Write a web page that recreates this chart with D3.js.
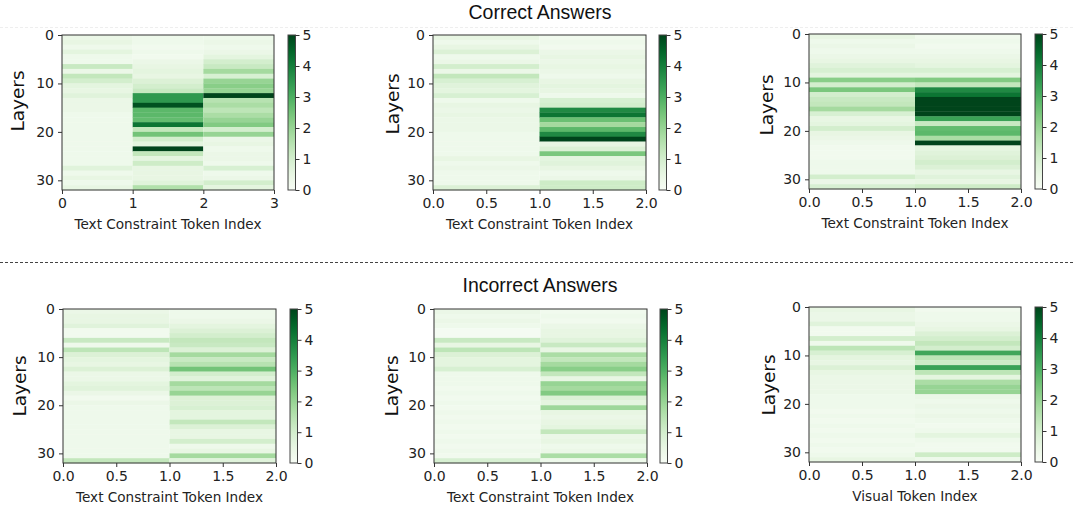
<html>
<head>
  <title>Correct vs Incorrect Answers</title>
  <script src="https://d3js.org/d3.v7.min.js"></script>
  <style>
    body { margin: 0; background: #fff; }
    .tick text { font-family: "DejaVu Sans", sans-serif; font-size: 14px; fill: #222; }
    .tick line { stroke: #333; }
    .domain { stroke: none; }
  </style>
</head>
<body>
<div id="vis"></div>
<script type="text/javascript">

  // values per layer (0..31), one array per token column
  var correct1_tok0 = [0.4,0.5,0.3,0.6,0.3,0.3,1.2,0.4,1.3,1.0,0.6,0.5,0.7,0.4,0.4,0.4,0.3,0.3,0.3,0.3,0.3,0.3,0.3,0.3,0.3,0.3,0.3,0.7,0.3,0.5,0.3,0.5];
  var correct1_tok1 = [0.3,0.3,0.2,0.3,0.2,0.4,0.5,0.6,0.5,0.8,1.0,1.2,3.5,3.5,4.8,2.8,2.8,2.7,4.2,1.3,2.5,1.0,0.6,5.0,1.3,0.6,1.1,0.5,0.5,0.5,0.7,1.6];
  var correct1_tok2 = [0.3,0.4,0.3,0.4,0.6,1.0,1.2,1.8,0.9,2.0,2.2,2.0,5.0,1.5,1.7,1.4,1.7,2.0,2.3,1.0,2.0,0.4,0.5,0.3,0.4,0.4,0.3,0.9,0.3,0.4,1.0,0.6];

  var correct2_tok0 = [0.5,0.3,0.5,0.8,0.3,0.4,1.0,0.4,1.3,0.9,0.7,0.6,0.9,0.3,0.5,0.4,0.5,0.4,0.4,0.4,0.3,0.3,0.3,0.3,0.3,0.5,0.3,0.4,0.3,0.3,0.3,0.8];
  var correct2_tok1 = [0.2,0.3,0.2,0.4,0.5,0.4,0.5,0.4,0.3,0.5,0.6,0.5,0.3,0.9,1.0,3.8,4.2,2.6,1.8,2.8,3.8,5.0,0.5,0.8,2.4,0.6,0.7,0.5,0.3,0.4,1.1,1.1];

  var correct3_tok0 = [0.5,0.3,0.4,0.3,0.4,0.5,0.7,0.9,0.6,2.2,1.0,2.4,1.0,1.2,1.3,1.8,0.9,0.5,0.6,1.0,0.5,0.4,0.3,0.2,0.2,0.2,0.3,0.3,0.3,1.0,0.4,0.9];
  var correct3_tok1 = [0.2,0.3,0.2,0.3,0.4,0.5,0.6,0.9,0.6,2.3,1.3,3.8,4.2,5.0,5.0,5.0,5.0,3.3,1.2,2.7,2.8,1.7,5.0,0.6,0.7,0.8,1.0,0.8,0.5,0.7,0.5,1.1];

  var incorrect1_tok0 = [0.4,0.5,0.5,0.7,0.2,0.2,1.2,0.3,1.4,0.8,0.6,0.5,0.8,0.4,0.4,0.6,0.7,0.4,0.2,0.4,0.3,0.3,0.3,0.3,0.3,0.3,0.3,0.3,0.3,0.3,0.3,1.3];
  var incorrect1_tok1 = [0.3,0.3,0.4,0.6,0.8,1.0,1.3,1.2,0.8,1.8,1.2,1.5,2.5,1.0,0.7,1.8,1.4,2.0,0.8,0.8,0.9,0.6,0.6,1.3,0.8,0.5,0.5,1.0,0.3,0.5,1.8,0.7];

  var incorrect2_tok0 = [0.4,0.3,0.4,0.3,0.1,0.1,1.2,0.5,1.4,0.8,0.6,0.6,0.9,0.3,0.3,0.3,0.2,0.3,0.2,0.3,0.2,0.3,0.2,0.3,0.2,0.3,0.2,0.3,0.2,0.3,0.2,0.9];
  var incorrect2_tok1 = [0.2,0.3,0.2,0.4,0.5,0.5,0.7,1.2,0.5,1.7,1.3,1.8,2.2,1.3,0.5,2.0,1.8,2.3,0.8,0.6,1.9,0.5,0.4,0.5,0.6,1.3,0.4,0.5,0.3,0.4,1.7,0.3];

  var incorrect3_tok0 = [0.5,0.4,0.4,0.7,0.2,0.2,1.0,0.3,1.4,0.9,0.6,0.5,0.8,0.5,0.4,0.4,0.4,0.4,0.3,0.3,0.3,0.2,0.3,0.2,0.3,0.2,0.3,0.2,0.3,0.2,0.3,0.5];
  var incorrect3_tok1 = [0.2,0.3,0.3,0.4,0.5,0.8,1.0,1.3,1.0,3.2,1.4,1.1,3.3,1.4,0.6,1.7,2.0,2.0,0.4,0.3,0.4,0.3,0.4,0.3,0.2,0.3,0.6,0.3,0.2,0.2,1.1,0.3];

  var yTicks = [0, 10, 20, 30];
  var cbTicks = [0, 1, 2, 3, 4, 5];
  var nLayers = 32;

  // panel layout: plot box + colorbar box + label spots
  var panels = [
    {cols: [correct1_tok0, correct1_tok1, correct1_tok2], xTicks: [0,1,2,3], fmt: d3.format('d'),
     xlabel: 'Text Constraint Token Index', l: 62, t: 35, r: 274, b: 190, cb: 288, ly: 18, lyc: 101},
    {cols: [correct2_tok0, correct2_tok1], xTicks: [0,0.5,1,1.5,2], fmt: d3.format('.1f'),
     xlabel: 'Text Constraint Token Index', l: 433, t: 35, r: 646, b: 190, cb: 659, ly: 393, lyc: 104},
    {cols: [correct3_tok0, correct3_tok1], xTicks: [0,0.5,1,1.5,2], fmt: d3.format('.1f'),
     xlabel: 'Text Constraint Token Index', l: 809, t: 34, r: 1021, b: 189, cb: 1035, ly: 767, lyc: 105},
    {cols: [incorrect1_tok0, incorrect1_tok1], xTicks: [0,0.5,1,1.5,2], fmt: d3.format('.1f'),
     xlabel: 'Text Constraint Token Index', l: 63, t: 309, r: 276, b: 463, cb: 290, ly: 20, lyc: 386},
    {cols: [incorrect2_tok0, incorrect2_tok1], xTicks: [0,0.5,1,1.5,2], fmt: d3.format('.1f'),
     xlabel: 'Text Constraint Token Index', l: 434, t: 309, r: 647, b: 463, cb: 660, ly: 392, lyc: 386},
    {cols: [incorrect3_tok0, incorrect3_tok1], xTicks: [0,0.5,1,1.5,2], fmt: d3.format('.1f'),
     xlabel: 'Visual Token Index', l: 809, t: 307, r: 1021, b: 462, cb: 1035, ly: 769, lyc: 385}
  ];

  var W = 1073, H = 507;
  var color = d3.scaleSequential(d3.interpolateGreens).domain([0, 5]);

  var svg = d3.select('#vis').append('svg')
                .attr('width', W)
                .attr('height', H);

  // gradient for colorbars
  var grad = svg.append('defs').append('linearGradient')
                .attr('id', 'greens')
                .attr('x1', 0).attr('y1', 1).attr('x2', 0).attr('y2', 0);
  d3.range(0, 1.0001, 0.05).forEach(function(s) {
    grad.append('stop').attr('offset', s).attr('stop-color', d3.interpolateGreens(s));
  });

  // section titles + separator
  svg.append('text').text('Correct Answers')
       .attr('x', 540).attr('y', 19).attr('text-anchor', 'middle')
       .style('font-family', '"Liberation Sans", Arial, sans-serif').style('font-size', '19.5px').style('fill', '#111');
  svg.append('text').text('Incorrect Answers')
       .attr('x', 540).attr('y', 292).attr('text-anchor', 'middle')
       .style('font-family', '"Liberation Sans", Arial, sans-serif').style('font-size', '19.5px').style('fill', '#111');
  svg.append('line')
       .attr('x1', 0).attr('x2', W).attr('y1', 262.5).attr('y2', 262.5)
       .style('stroke', '#444').style('stroke-width', 1).style('stroke-dasharray', '3,2');
  svg.append('line')
       .attr('x1', 0).attr('x2', W).attr('y1', 27.5).attr('y2', 27.5)
       .style('stroke', '#eee').style('stroke-width', 1).style('stroke-dasharray', '3,2');

  panels.forEach(function(p) {
    var x = d3.scaleLinear().domain([0, p.cols.length]).range([p.l, p.r]);
    var y = d3.scaleLinear().domain([0, nLayers]).range([p.t, p.b]);
    var g = svg.append('g');

    p.cols.forEach(function(vals, c) {
      g.selectAll(null)
         .data(vals)
         .enter().append('rect')
           .attr('x', x(c))
           .attr('width', x(c + 1) - x(c))
           .attr('y', function(d, i) { return y(i); })
           .attr('height', function(d, i) { return y(i + 1) - y(i) + 0.3; })
           .style('fill', function(d) { return color(d); });
    });

    g.append('rect')
       .attr('x', p.l).attr('y', p.t).attr('width', p.r - p.l).attr('height', p.b - p.t)
       .style('fill', 'none').style('stroke', '#333').style('stroke-width', 1);

    g.append('g')
       .attr('transform', 'translate(0,' + p.b + ')')
       .call(d3.axisBottom(x).tickValues(p.xTicks).tickFormat(p.fmt).tickSize(4).tickPadding(4));
    g.append('g')
       .attr('transform', 'translate(' + p.l + ',0)')
       .call(d3.axisLeft(y).tickValues(yTicks).tickFormat(d3.format('d')).tickSize(4).tickPadding(4));

    g.append('text').text(p.xlabel)
       .attr('x', (p.l + p.r) / 2).attr('y', p.b + 39).attr('text-anchor', 'middle')
       .style('font-family', '"DejaVu Sans", sans-serif').style('font-size', '13.6px').style('fill', '#222');

    g.append('text').text('Layers')
       .attr('transform', 'translate(' + (p.ly + 6) + ',' + p.lyc + ') rotate(-90)')
       .attr('text-anchor', 'middle')
       .style('font-family', '"DejaVu Sans", sans-serif').style('font-size', '18.5px').style('fill', '#111');

    // colorbar
    var cy = d3.scaleLinear().domain([0, 5]).range([p.b, p.t]);
    g.append('rect')
       .attr('x', p.cb).attr('y', p.t).attr('width', 7.5).attr('height', p.b - p.t)
       .style('fill', 'url(#greens)').style('stroke', '#444').style('stroke-width', 1);
    g.append('g')
       .attr('transform', 'translate(' + (p.cb + 7.5) + ',0)')
       .call(d3.axisRight(cy).tickValues(cbTicks).tickFormat(d3.format('d')).tickSize(4).tickPadding(3));
  });

</script>
</body>
</html>
